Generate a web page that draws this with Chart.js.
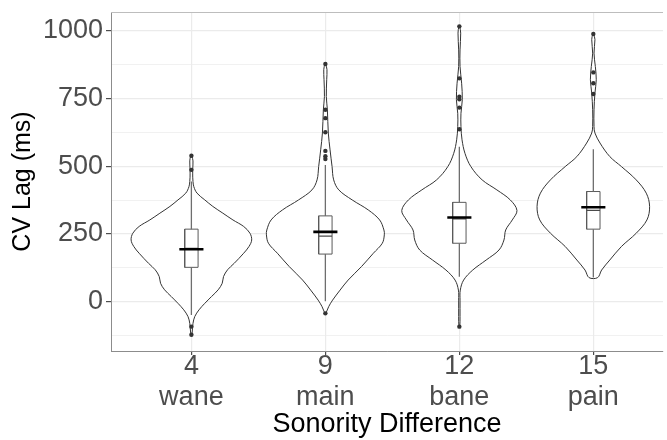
<!DOCTYPE html>
<html>
<head>
<meta charset="utf-8">
<script src="https://cdn.jsdelivr.net/npm/chart.js@4/dist/chart.umd.min.js"></script>
<style>
  body { margin: 0; background: #fff; }
  #wrap { width: 667px; height: 440px; }
</style>
</head>
<body>
<div id="wrap"><canvas id="violinChart" width="667" height="440"></canvas></div>
<script>
// categories on the x axis
const categories = ["4", "9", "12", "15"];
const words = ["wane", "main", "bane", "pain"];

// y ticks (major labelled, minor only grid)
const yTicks = [-125, 0, 125, 250, 375, 500, 625, 750, 875, 1000];
const yMajor = [0, 250, 500, 750, 1000];

// violin outlines: levels (ms) and half widths (in category units), top to bottom
const violinLevels = [
  [539, 520, 490, 460, 444, 425, 401, 376, 352, 327, 302, 278, 253, 228, 204, 179, 142, 118, 93, 68, 44, 19, -6, -30, -55, -80, -100, -123],
  [878, 857, 820, 758, 709, 623, 561, 499, 450, 413, 376, 339, 302, 265, 247, 216, 179, 130, 80, 43, 6, -18, -43],
  [1017, 992, 930, 869, 807, 746, 696, 647, 598, 548, 499, 450, 413, 376, 337, 302, 265, 228, 191, 154, 117, 80, 43, 6, -55, -92],
  [989, 968, 918, 869, 820, 771, 709, 647, 623, 586, 536, 499, 450, 401, 352, 302, 253, 204, 154, 117, 89]
];
const violinWidths = [
  [0.004, 0.012, 0.01, 0.01, 0.012, 0.018, 0.042, 0.1, 0.16, 0.235, 0.31, 0.39, 0.437, 0.45, 0.43, 0.39, 0.32, 0.27, 0.24, 0.23, 0.2, 0.15, 0.1, 0.057, 0.025, 0.012, 0.008, 0.003],
  [0.003, 0.012, 0.01, 0.007, 0.015, 0.022, 0.035, 0.05, 0.062, 0.1, 0.2, 0.32, 0.405, 0.437, 0.44, 0.425, 0.358, 0.27, 0.17, 0.11, 0.054, 0.025, 0.003],
  [0.003, 0.01, 0.005, 0.005, 0.017, 0.022, 0.012, 0.012, 0.02, 0.042, 0.086, 0.17, 0.28, 0.38, 0.43, 0.395, 0.346, 0.333, 0.296, 0.2, 0.1, 0.032, 0.007, 0.005, 0.005, 0.003],
  [0.003, 0.012, 0.005, 0.015, 0.022, 0.012, 0.005, 0.005, 0.012, 0.05, 0.123, 0.21, 0.32, 0.395, 0.42, 0.4, 0.32, 0.21, 0.123, 0.062, 0.032]
];

// box plot stats per category
const q1 = [127, 176, 216, 268];
const medians = [197, 242, 306, 337];
const q3 = [268, 317, 367, 407];
const means = [194, 258, 311, 349];
const whiskerLow = [-49, 2, 92, 89];
const whiskerHigh = [444, 505, 572, 563];
const outliers = [
  [539, 487, -92, -122],
  [878, 709, 678, 626, 557, 537, 527, -43],
  [1017, 825, 757, 748, 717, 637, -92],
  [989, 847, 807, 767]
];

const boxHalf = 0.05;
const meanHalf = 0.09;

function violinShape(i) {
  const cx = i + 1;
  const lv = violinLevels[i], w = violinWidths[i];
  const right = lv.map((y, k) => ({ x: cx + w[k], y: y }));
  const left = lv.map((y, k) => ({ x: cx - w[k], y: y })).reverse();
  return right.concat(left, [right[0]]);
}

const datasets = [];

categories.forEach((c, i) => {
  datasets.push({
    type: "line",
    data: violinShape(i),
    borderColor: "#333333",
    borderWidth: 1,
    backgroundColor: "#ffffff",
    fill: "shape",
    tension: 0.35,
    pointRadius: 0,
    order: 5,
  });
  const cx = i + 1;
  datasets.push({
    type: "line",
    data: [
      { x: cx - boxHalf, y: q1[i] },
      { x: cx + boxHalf, y: q1[i] },
      { x: cx + boxHalf, y: q3[i] },
      { x: cx - boxHalf, y: q3[i] },
      { x: cx - boxHalf, y: q1[i] },
    ],
    borderColor: "#5a5a5a",
    borderWidth: 1,
    backgroundColor: "#ffffff",
    fill: "shape",
    tension: 0,
    pointRadius: 0,
    order: 4,
  });
});

// whiskers
const whiskerData = [];
categories.forEach((c, i) => {
  const cx = i + 1;
  whiskerData.push({ x: cx, y: whiskerLow[i] }, { x: cx, y: q1[i] }, { x: cx, y: null });
  whiskerData.push({ x: cx, y: q3[i] }, { x: cx, y: whiskerHigh[i] }, { x: cx, y: null });
});
datasets.push({
  type: "line",
  data: whiskerData,
  borderColor: "#6e6e6e",
  borderWidth: 1.3,
  pointRadius: 0,
  fill: false,
  spanGaps: false,
  order: 3,
});

// medians
const medianData = [];
categories.forEach((c, i) => {
  const cx = i + 1;
  medianData.push({ x: cx - boxHalf, y: medians[i] }, { x: cx + boxHalf, y: medians[i] }, { x: cx, y: null });
});
datasets.push({
  type: "line",
  data: medianData,
  borderColor: "#4a4a4a",
  borderWidth: 1.3,
  pointRadius: 0,
  fill: false,
  spanGaps: false,
  order: 2,
});

// means
const meanData = [];
categories.forEach((c, i) => {
  const cx = i + 1;
  meanData.push({ x: cx - meanHalf, y: means[i] }, { x: cx + meanHalf, y: means[i] }, { x: cx, y: null });
});
datasets.push({
  type: "line",
  data: meanData,
  borderColor: "#000000",
  borderWidth: 2.6,
  pointRadius: 0,
  fill: false,
  spanGaps: false,
  order: 1,
});

// outlier points
const outlierData = [];
outliers.forEach((arr, i) => arr.forEach((y) => outlierData.push({ x: i + 1, y: y })));
datasets.push({
  type: "scatter",
  data: outlierData,
  pointRadius: 2.2,
  pointBackgroundColor: "#333333",
  pointBorderWidth: 0,
  order: 0,
});

const topBorder = {
  id: "topBorder",
  afterDraw(chart) {
    const { ctx, chartArea } = chart;
    ctx.save();
    ctx.strokeStyle = "#bdbdbd";
    ctx.lineWidth = 1;
    ctx.beginPath();
    ctx.moveTo(chartArea.left, chartArea.top + 0.5);
    ctx.lineTo(chartArea.right, chartArea.top + 0.5);
    ctx.stroke();
    ctx.restore();
  },
};

// keep the axes from reserving space for half labels
function noEdgePadding(s) {
  s.paddingTop = 0;
  s.paddingBottom = 0;
  s.paddingLeft = 0;
  s.paddingRight = 0;
}

const fontFamily = "'Liberation Sans', Arial, Helvetica, sans-serif";

new Chart(document.getElementById("violinChart").getContext("2d"), {
  type: "scatter",
  data: { datasets: datasets },
  plugins: [topBorder],
  options: {
    responsive: false,
    animation: false,
    layout: { padding: { top: 12, left: 0, right: 0, bottom: 0 } },
    plugins: { legend: { display: false }, tooltip: { enabled: false } },
    scales: {
      x: {
        type: "linear",
        min: 0.4,
        max: 4.52,
        afterBuildTicks: (s) => {
          s.ticks = categories.map((c, i) => ({ value: i + 1 }));
        },
        afterFit: (s) => {
          s.height = 89;
          noEdgePadding(s);
        },
        ticks: {
          autoSkip: false,
          maxRotation: 0,
          padding: -4,
          color: "#4d4d4d",
          font: { family: fontFamily, size: 27, lineHeight: 1.15 },
          callback: (v) => [categories[v - 1], words[v - 1]],
        },
        grid: { color: "#ebebeb", lineWidth: 1.2, tickLength: 4, tickColor: "#4d4d4d" },
        border: { display: true, color: "#8c8c8c", width: 1 },
        title: {
          display: true,
          text: "Sonority Difference",
          color: "#000000",
          font: { family: fontFamily, size: 27, lineHeight: 1 },
          padding: { top: 0, bottom: 2 },
        },
      },
      y: {
        type: "linear",
        min: -182,
        max: 1070,
        afterBuildTicks: (s) => {
          s.ticks = yTicks.map((v) => ({ value: v }));
        },
        afterFit: (s) => {
          s.width = 111;
          noEdgePadding(s);
        },
        ticks: {
          padding: 3,
          color: "#4d4d4d",
          font: { family: fontFamily, size: 27 },
          callback: (v) => (yMajor.includes(v) ? String(v) : ""),
        },
        grid: {
          color: "#ebebeb",
          lineWidth: (ctx) => (ctx.tick && yMajor.includes(ctx.tick.value) ? 1.2 : 0.7),
          tickLength: 5,
          tickColor: (ctx) => (ctx.tick && yMajor.includes(ctx.tick.value) ? "#4d4d4d" : "rgba(0,0,0,0)"),
        },
        border: { display: true, color: "#8c8c8c", width: 1 },
        title: {
          display: true,
          text: "CV Lag (ms)",
          color: "#000000",
          font: { family: fontFamily, size: 25, lineHeight: 1 },
          padding: { top: 11, bottom: 0 },
        },
      },
    },
  },
});
</script>
</body>
</html>
